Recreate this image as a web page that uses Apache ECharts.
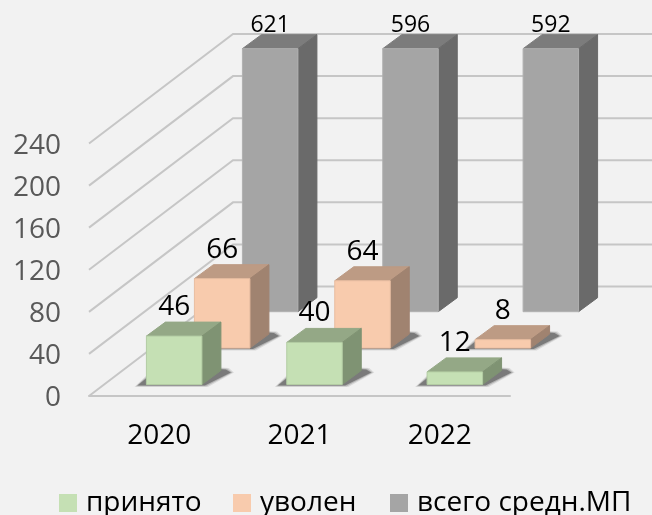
<!DOCTYPE html>
<html>
<head>
<meta charset="utf-8">
<style>html,body{margin:0;padding:0;background:#f2f2f2}#main{width:652px;height:515px}</style>
<script src="https://cdn.jsdelivr.net/npm/echarts@6/dist/echarts.min.js"></script>
</head>
<body>
<div id="main"></div>
<script>
"use strict";

//values
var years = ['2020', '2021', '2022'];
var hired = [46, 40, 12];
var fired = [66, 64, 8];
var total = [621, 596, 592];
var yTicks = [0, 40, 80, 120, 160, 200, 240];
var names = ['принято', 'уволен', 'всего средн.МП'];

//3d look: how far the back wall sits from the front plane, in px
var WALL_DX = 144, WALL_DY = -109.5;
var BAR_W = 55.5, BAR_DX = 19, BAR_DY = -14;
//bars taller than this are cut off, excel does the same
var CUT = 250;

var faces = [
    { front: '#c5e0b4', border: '#b3cca3', top: '#94a886', side: '#7f9373' },
    { front: '#f8cbad', border: '#e8bda1', top: '#bd9b84', side: '#a08370' },
    { front: '#a5a5a5', border: '#b0b0b0', top: '#7c7c7c', side: '#6a6a6a' }
];

function poly(points, color) {
    return {
        type: 'polygon',
        shape: { points: points },
        style: { fill: color, stroke: color, lineWidth: 1 }
    };
}

//soft floor shadow, stacked see-through polygons look like a blur
function shadowShape(x0, x1, yb, grow, alpha) {
    return {
        type: 'polygon',
        shape: {
            points: [[x0 - 9 - grow, yb + 1 + grow / 2], [x1 + 3 + grow, yb + 1 + grow / 2], [x1 + 29 + grow, yb - 12],
                [x1 + 24 + grow, yb - 15 - grow / 2], [x1 + 10, yb - 16 - grow / 2], [x0 + 2, yb - 8 - grow]]
        },
        style: { fill: 'rgba(50,50,50,' + alpha + ')' }
    };
}

//one bar = shadow + top + side + front + label
function barRender(row, labelSize, labelGap, hasShadow) {
    return function (params, api) {
        var i = api.value(0);
        var v = api.value(1);
        var base = api.coord([i, 0]);
        var head = api.coord([i, Math.min(v, CUT)]);
        var dx = 15 + row * 48;
        var dy = -11.5 - row * 36.4;
        var x0 = base[0] - BAR_W / 2 + dx;
        var x1 = x0 + BAR_W;
        var yb = base[1] + dy;
        var yt = head[1] + dy;
        var c = faces[row];
        var kids = [];
        if (hasShadow) {
            kids.push(shadowShape(x0, x1, yb, 3, 0.12));
            kids.push(shadowShape(x0, x1, yb, 1.5, 0.22));
            kids.push(shadowShape(x0, x1, yb, 0, 0.45));
        }
        kids.push(poly([[x0, yt], [x1, yt], [x1 + BAR_DX, yt + BAR_DY], [x0 + BAR_DX, yt + BAR_DY]], c.top));
        kids.push(poly([[x1, yt], [x1 + BAR_DX, yt + BAR_DY], [x1 + BAR_DX, yb + BAR_DY], [x1, yb]], c.side));
        kids.push({
            type: 'rect',
            shape: { x: x0, y: yt, width: BAR_W, height: yb - yt },
            style: { fill: c.front, stroke: c.border, lineWidth: 1 }
        });
        kids.push({
            type: 'text',
            style: {
                x: (x0 + x1) / 2,
                y: yt - labelGap,
                text: String(v),
                fill: '#000',
                font: labelSize + 'px "Open Sans"',
                align: 'center',
                verticalAlign: 'middle'
            }
        });
        return { type: 'group', children: kids };
    };
}

//gridlines run from the front plane up to the wall and then along it
function wallRender(params, api) {
    var a = api.coord([0, api.value(0)]);
    var x0 = params.coordSys.x;
    var x1 = x0 + params.coordSys.width;
    return {
        type: 'polyline',
        shape: { points: [[x0, a[1]], [x0 + WALL_DX, a[1] + WALL_DY], [x1 + WALL_DX, a[1] + WALL_DY]] },
        style: { fill: null, stroke: '#c6c6c6', lineWidth: 2 }
    };
}

function pairs(arr) {
    return arr.map(function (v, i) { return [i, v]; });
}

//one legend per name, the gaps in the picture are not even
function legendAt(name, left) {
    return {
        data: [name],
        left: left,
        top: 484,
        padding: 5,
        icon: 'rect',
        itemWidth: 18,
        itemHeight: 18,
        textStyle: { fontSize: 28, color: '#000', fontFamily: '"Open Sans"', padding: [0, 0, 0, 4] }
    };
}

var option = {
    backgroundColor: '#f2f2f2',
    animation: false,
    textStyle: { fontFamily: '"Open Sans"' },
    grid: { left: 89, right: 142, top: 143.5, bottom: 119 },
    legend: [legendAt(names[0], 54), legendAt(names[1], 228), legendAt(names[2], 385)],
    xAxis: {
        type: 'category',
        data: years,
        axisLine: { lineStyle: { color: '#c6c6c6', width: 2 } },
        axisTick: { show: false },
        axisLabel: { fontSize: 28, color: '#000', margin: 26 }
    },
    yAxis: {
        type: 'value',
        min: 0,
        max: 240,
        interval: 40,
        axisLine: { show: false },
        axisTick: { show: false },
        splitLine: { show: false },
        axisLabel: {
            margin: 28,
            formatter: '{a|{value}}',
            rich: { a: { fontSize: 28, color: '#595959', padding: [5, 0, 0, 0] } }
        }
    },
    series: [
        {
            name: 'wall', type: 'custom', z: 1, silent: true,
            encode: { y: 0 },
            data: yTicks.map(function (v) { return [v]; }),
            renderItem: wallRender
        },
        {
            name: names[2], type: 'custom', z: 2,
            itemStyle: { color: faces[2].front },
            data: pairs(total),
            renderItem: barRender(2, 23, 23, false)
        },
        {
            name: names[1], type: 'custom', z: 3,
            itemStyle: { color: faces[1].front },
            data: pairs(fired),
            renderItem: barRender(1, 28, 29, true)
        },
        {
            name: names[0], type: 'custom', z: 4,
            itemStyle: { color: faces[0].front },
            data: pairs(hired),
            renderItem: barRender(0, 28, 29, true)
        }
    ]
};

var chart_object = echarts.init(document.getElementById('main'));
chart_object.setOption(option);
</script>
</body>
</html>
